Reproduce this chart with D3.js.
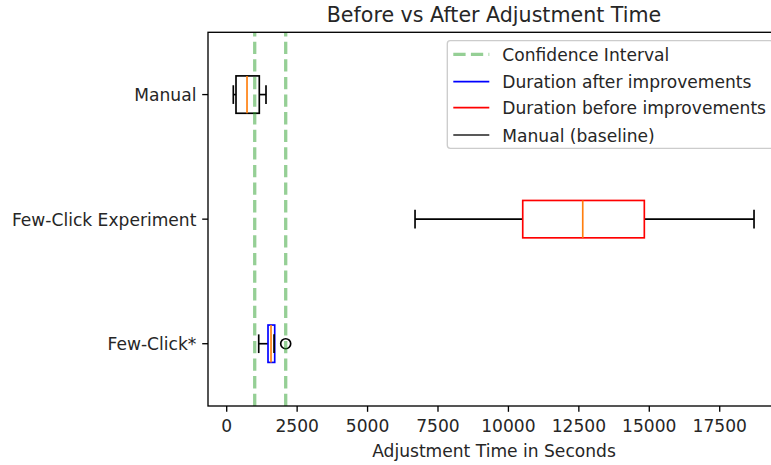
<!DOCTYPE html>
<html>
<head>
<meta charset="utf-8">
<script src="https://cdn.jsdelivr.net/npm/d3@7"></script>
<style>
  html, body { margin: 0; padding: 0; background: #fff; overflow: hidden; }
  svg { display: block; font-family: "DejaVu Sans", sans-serif; }
</style>
</head>
<body>
<svg id="chart" width="771" height="465"></svg>
<script>
// ---- data ----
const categories = ["Few-Click*", "Few-Click Experiment", "Manual"];
const positions = [1, 2, 3];
const whiskerLow = [1136, 6685, 234];
const q1 = [1466, 10508, 330];
const medians = [1573, 12638, 721];
const q3 = [1704, 14824, 1157];
const whiskerHigh = [1680, 18718, 1395];
const outliers = [[2094], [], []];
const boxColors = ["blue", "red", "black"];
const confidenceInterval = [994, 2094];
const xTicks = [0, 2500, 5000, 7500, 10000, 12500, 15000, 17500];
const xLimits = [-664, 19640];
const legendLabels = ["Confidence Interval", "Duration after improvements", "Duration before improvements", "Manual (baseline)"];
const legendColors = ["#95cf95", "blue", "red", "#222"];

// ---- layout ----
const L = 208, R = 780, T = 32.3, B = 406;
const fs = 17.1;
const svg = d3.select("#chart");
const x = d3.scaleLinear().domain(xLimits).range([L, R]);
const y = d3.scaleLinear().domain([0.5, 3.5]).range([B, T]);
const boxH = y(0) - y(0.3);
const capH = boxH / 2;

const g = svg.append("g");

// boxplots
positions.forEach((p, i) => {
  const cy = y(p);
  g.append("line").attr("x1", x(whiskerLow[i])).attr("x2", x(q1[i]))
    .attr("y1", cy).attr("y2", cy).attr("stroke", "black").attr("stroke-width", 1.67);
  g.append("line").attr("x1", x(q3[i])).attr("x2", x(Math.max(whiskerHigh[i], q3[i])))
    .attr("y1", cy).attr("y2", cy).attr("stroke", "black").attr("stroke-width", 1.67);
  g.append("rect").attr("x", x(q1[i])).attr("y", cy - boxH / 2)
    .attr("width", x(q3[i]) - x(q1[i])).attr("height", boxH)
    .attr("fill", "none").attr("stroke", boxColors[i]).attr("stroke-width", 1.67);
  g.append("line").attr("x1", x(medians[i])).attr("x2", x(medians[i]))
    .attr("y1", cy - boxH / 2).attr("y2", cy + boxH / 2)
    .attr("stroke", "#ff7f0e").attr("stroke-width", 1.67);
  [whiskerLow[i], whiskerHigh[i]].forEach(v => {
    g.append("line").attr("x1", x(v)).attr("x2", x(v))
      .attr("y1", cy - capH / 2).attr("y2", cy + capH / 2)
      .attr("stroke", "black").attr("stroke-width", 1.67);
  });
  outliers[i].forEach(v => {
    g.append("circle").attr("cx", x(v)).attr("cy", cy).attr("r", 5)
      .attr("fill", "none").attr("stroke", "black").attr("stroke-width", 1.67);
  });
});

// confidence interval lines
confidenceInterval.forEach(v => {
  g.append("line").attr("x1", x(v)).attr("x2", x(v)).attr("y1", B).attr("y2", T)
    .attr("stroke", "#2ca02c").attr("stroke-opacity", 0.5)
    .attr("stroke-width", 3.3).attr("stroke-dasharray", "12.3,5.3");
});

// frame
svg.append("rect").attr("x", L).attr("y", T).attr("width", R - L).attr("height", B - T)
  .attr("fill", "none").attr("stroke", "black").attr("stroke-width", 1.33);

// x axis
const xa = svg.append("g").attr("transform", `translate(0,${B})`);
xTicks.forEach(t => {
  xa.append("line").attr("x1", x(t)).attr("x2", x(t)).attr("y1", 0).attr("y2", 5.8)
    .attr("stroke", "black").attr("stroke-width", 1.33);
  xa.append("text").attr("x", x(t)).attr("y", 26.3).attr("text-anchor", "middle")
    .attr("font-size", fs).attr("fill", "#262626").text(d3.format("d")(t));
});
svg.append("text").attr("x", (L + R) / 2).attr("y", 456.7).attr("text-anchor", "middle")
  .attr("font-size", fs).attr("fill", "#262626").text("Adjustment Time in Seconds");

// y axis
positions.forEach((p, i) => {
  svg.append("line").attr("x1", L - 5.8).attr("x2", L).attr("y1", y(p)).attr("y2", y(p))
    .attr("stroke", "black").attr("stroke-width", 1.33);
  svg.append("text").attr("x", L - 5.8 - 5.8).attr("y", y(p) + 6.5).attr("text-anchor", "end")
    .attr("font-size", fs).attr("fill", "#262626").text(categories[i]);
});

// title
svg.append("text").attr("x", (L + R) / 2).attr("y", 21.7).attr("text-anchor", "middle")
  .attr("font-size", 20.6).attr("fill", "#262626").text("Before vs After Adjustment Time");

// legend
const lg = svg.append("g");
lg.append("rect").attr("x", 447.3).attr("y", 40.7).attr("width", 326).attr("height", 107.6)
  .attr("rx", 3).attr("fill", "white").attr("fill-opacity", 0.8)
  .attr("stroke", "#cccccc").attr("stroke-width", 1.33);
const rowY = [54.3, 81.7, 107.7, 135];
legendLabels.forEach((lab, i) => {
  const ln = lg.append("line").attr("x1", 453.3).attr("x2", 489.3)
    .attr("y1", rowY[i]).attr("y2", rowY[i]).attr("stroke", legendColors[i]);
  if (i === 0) ln.attr("stroke-width", 3.3).attr("stroke-dasharray", "12.3,5.3");
  else ln.attr("stroke-width", 1.67);
  lg.append("text").attr("x", 502.3).attr("y", rowY[i] + 6.5)
    .attr("font-size", fs).attr("fill", "#262626").text(lab);
});
</script>
</body>
</html>
